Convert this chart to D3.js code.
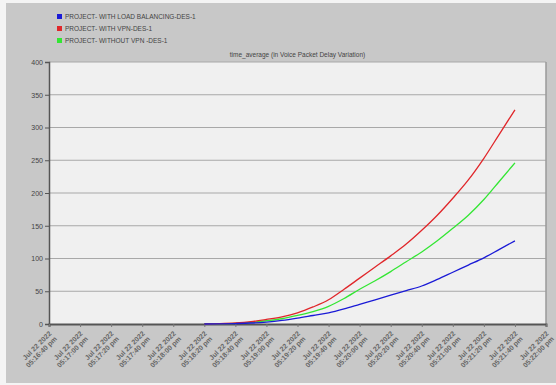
<!DOCTYPE html>
<html>
<head>
<meta charset="utf-8">
<script src="https://cdn.jsdelivr.net/npm/d3@7"></script>
<style>
  html, body { margin: 0; padding: 0; background: #f4f4f4; }
  svg { display: block; }
  text { font-family: "Liberation Sans", Arial, sans-serif; }
</style>
</head>
<body>
<svg id="chart" width="556" height="385"></svg>
<script>
// Elapsed seconds since 05:16:40 pm for every sample
const sampleSeconds = [100, 110, 120, 130, 140, 150, 160, 170, 180, 190, 200,
                       210, 220, 230, 240, 250, 260, 270, 280, 290, 300];

// Series values (time_average of voice packet delay variation)
const loadBalancing = [0, 0.2, 0.7, 1.5, 3, 5.5, 9, 13, 17, 23, 30,
                       37, 44, 51, 58, 68, 79, 90, 101, 114, 127];
const withVpn = [0, 0.5, 1.5, 3.5, 7, 11, 17, 26, 37, 53, 70,
                 87, 104, 122, 143, 166, 192, 220, 253, 290, 327];
const withoutVpn = [0, 0.3, 1, 2.5, 5, 8, 13, 19, 27, 39, 53,
                    66, 80, 95, 110, 127, 146, 166, 190, 218, 246];

const seriesNames = ["PROJECT- WITH LOAD BALANCING-DES-1",
                     "PROJECT- WITH VPN-DES-1",
                     "PROJECT- WITHOUT VPN -DES-1"];
const seriesColors = ["#1a1ad6", "#e0262a", "#33e633"];

// X tick labels every 20 s
const tickSeconds = d3.range(0, 321, 20);
const tickTimes = ["05:16:40 pm", "05:17:00 pm", "05:17:20 pm", "05:17:40 pm",
                   "05:18:00 pm", "05:18:20 pm", "05:18:40 pm", "05:19:00 pm",
                   "05:19:20 pm", "05:19:40 pm", "05:20:00 pm", "05:20:20 pm",
                   "05:20:40 pm", "05:21:00 pm", "05:21:20 pm", "05:21:40 pm",
                   "05:22:00 pm"];
const tickDate = "Jul 22 2022";
const yTicks = [0, 50, 100, 150, 200, 250, 300, 350, 400];

const title = "time_average (in Voice Packet Delay Variation)";

const svg = d3.select("#chart");
const W = 556, H = 385;
const plot = { left: 49, right: 546, top: 62, bottom: 324 };

// Outer grey panel
svg.append("rect").attr("x", 6).attr("y", 3).attr("width", W - 6).attr("height", H - 5)
  .attr("fill", "#c8c8c8");

const x = d3.scaleLinear().domain([0, 320]).range([plot.left, plot.right]);
const y = d3.scaleLinear().domain([0, 400]).range([plot.bottom, plot.top]);

// Plot background
svg.append("rect")
  .attr("x", plot.left).attr("y", plot.top)
  .attr("width", plot.right - plot.left).attr("height", plot.bottom - plot.top)
  .attr("fill", "#f0f0f0");

// Horizontal gridlines
svg.append("g").selectAll("line")
  .data(yTicks.filter(d => d > 0))
  .join("line")
  .attr("x1", plot.left).attr("x2", plot.right)
  .attr("y1", d => y(d)).attr("y2", d => y(d))
  .attr("stroke", "#a8a8a8").attr("stroke-width", 1);

// Right border of the plot
svg.append("line")
  .attr("x1", plot.right).attr("x2", plot.right)
  .attr("y1", plot.top).attr("y2", plot.bottom)
  .attr("stroke", "#9a9a9a").attr("stroke-width", 1.5);

// Y axis
const yAxis = d3.axisLeft(y).tickValues(yTicks).tickSize(4).tickPadding(2);
const gy = svg.append("g").attr("transform", `translate(${plot.left},0)`).call(yAxis);
gy.select(".domain").attr("stroke", "#555").attr("stroke-width", 1.5);
gy.selectAll(".tick line").attr("stroke", "#555");
gy.selectAll(".tick text").attr("font-size", 7).attr("fill", "#444");

// X axis
const xAxis = d3.axisBottom(x).tickValues(tickSeconds).tickSize(3).tickFormat("");
const gx = svg.append("g").attr("transform", `translate(0,${plot.bottom})`).call(xAxis);
gx.select(".domain").attr("stroke", "#555").attr("stroke-width", 2);
gx.selectAll(".tick line").attr("stroke", "#777");

// Rotated two-line tick labels
const lbl = svg.append("g").selectAll("text")
  .data(tickSeconds)
  .join("text")
  .attr("transform", d => `translate(${x(d) + 3},${plot.bottom + 10}) rotate(-45)`)
  .attr("text-anchor", "end")
  .attr("font-size", 7)
  .attr("font-weight", "bold")
  .attr("fill", "#666");
lbl.append("tspan").attr("x", 0).attr("dy", 0).text(tickDate);
lbl.append("tspan").attr("x", 0).attr("dy", 7.5).text((d, i) => tickTimes[i]);

// Chart title
svg.append("text")
  .attr("x", (plot.left + plot.right) / 2).attr("y", 57)
  .attr("text-anchor", "middle").attr("font-size", 6.5).attr("fill", "#444")
  .text(title);

// Series lines
const line = d3.line()
  .x((d, i) => x(sampleSeconds[i]))
  .y(d => y(d))
  .curve(d3.curveMonotoneX);

const seriesValues = [loadBalancing, withVpn, withoutVpn];
// draw blue last so it sits on top near zero
[2, 1, 0].forEach(k => {
  svg.append("path")
    .datum(seriesValues[k])
    .attr("d", line)
    .attr("fill", "none")
    .attr("stroke", seriesColors[k])
    .attr("stroke-width", 1.3);
});

// Legend
const leg = svg.append("g").selectAll("g")
  .data(seriesNames)
  .join("g")
  .attr("transform", (d, i) => `translate(57,${14 + i * 12})`);
leg.append("rect").attr("width", 5).attr("height", 5)
  .attr("fill", (d, i) => seriesColors[i]);
leg.append("text").attr("x", 8).attr("y", 5).attr("font-size", 6.5).attr("fill", "#444")
  .text(d => d);
</script>
</body>
</html>
